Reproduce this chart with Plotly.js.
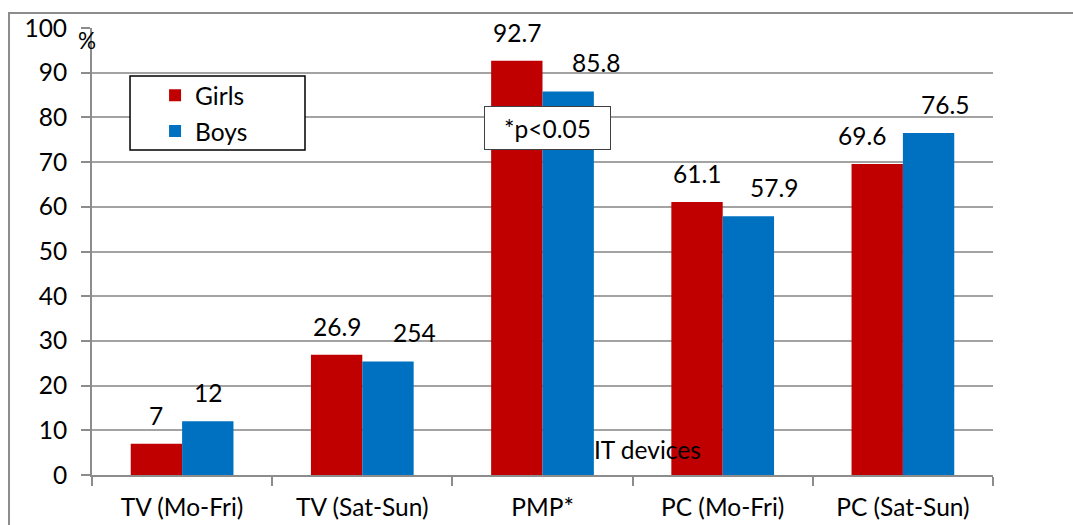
<!DOCTYPE html>
<html>
<head>
<meta charset="utf-8">
<script src="https://cdn.plot.ly/plotly-3.0.1.min.js"></script>
<style>
  html, body { margin: 0; padding: 0; background: #fff; }
  #chart { width: 1073px; height: 525px; }
</style>
</head>
<body>
<div id="chart"></div>
<script>
// Share of girls and boys using IT devices (%)
const categories = ['TV (Mo-Fri)', 'TV (Sat-Sun)', 'PMP*', 'PC (Mo-Fri)', 'PC (Sat-Sun)'];
const girls = [7, 26.9, 92.7, 61.1, 69.6];
const boys = [12, 25.4, 85.8, 57.9, 76.5];
const girlsLabels = ['7', '26.9', '92.7', '61.1', '69.6'];
const boysLabels = ['12', '254', '85.8', '57.9', '76.5'];
const yTicks = [0, 10, 20, 30, 40, 50, 60, 70, 80, 90, 100];

const FONT = 'Lato, "Open Sans", "DejaVu Sans", sans-serif';
const FS = 24.5;
const RED = '#C00000';
const BLUE = '#0070C0';
const GRID = '#a3a3a3';
const AXIS = '#8c8c8c';

const traces = [
  { type: 'bar', name: 'Girls', x: categories, y: girls, marker: { color: RED }, legendgroup: 'g' },
  { type: 'bar', name: 'Boys', x: categories, y: boys, marker: { color: BLUE }, legendgroup: 'b' }
];

// value labels above the bars, with a few hand-placed nudges
const barOffset = 25.7;
const nudge = { girls: [0, 0, 0, 0, -15], boys: [0, 26, 28, 26, 16] };
const labelAnns = [];
categories.forEach((c, i) => {
  labelAnns.push({ x: c, y: girls[i], xref: 'x', yref: 'y', text: girlsLabels[i], showarrow: false,
    xanchor: 'center', yanchor: 'bottom', xshift: -barOffset + nudge.girls[i], yshift: 12,
    font: { family: FONT, size: FS, color: '#000' } });
  labelAnns.push({ x: c, y: boys[i], xref: 'x', yref: 'y', text: boysLabels[i], showarrow: false,
    xanchor: 'center', yanchor: 'bottom', xshift: barOffset + nudge.boys[i], yshift: 12,
    font: { family: FONT, size: FS, color: '#000' } });
});

const layout = {
  width: 1073, height: 525,
  margin: { l: 92, r: 80, t: 28, b: 50, pad: 0 },
  paper_bgcolor: '#fff', plot_bgcolor: '#fff',
  font: { family: FONT, size: FS, color: '#000' },
  barmode: 'group', bargap: 0.43, bargroupgap: 0,
  showlegend: true,
  legend: {
    x: 0.07, y: 0.9, xanchor: 'left', yanchor: 'top',
    bgcolor: 'rgba(0,0,0,0)', borderwidth: 0,
    font: { family: FONT, size: FS, color: '#000' },
    traceorder: 'grouped', tracegroupgap: 1, itemwidth: 30
  },
  xaxis: {
    type: 'category', showgrid: false, zeroline: false,
    showline: true, linecolor: AXIS, linewidth: 2,
    ticks: 'outside', tickson: 'boundaries', ticklen: 9, tickwidth: 2, tickcolor: AXIS,
    ticklabelstandoff: 10,
    tickfont: { family: FONT, size: FS, color: '#000' }
  },
  yaxis: {
    range: [0, 100], tickvals: yTicks, ticktext: yTicks.map(String),
    showgrid: true, gridcolor: GRID, gridwidth: 2, zeroline: false,
    showline: true, linecolor: AXIS, linewidth: 2,
    ticks: 'outside', ticklen: 9, tickwidth: 2, tickcolor: AXIS,
    ticklabelstandoff: 9,
    tickfont: { family: FONT, size: FS, color: '#000' }
  },
  shapes: [
    // chart frame
    { type: 'rect', xref: 'paper', yref: 'paper', x0: -0.0921, x1: 1.3, y0: -0.4, y1: 1.0336,
      line: { color: AXIS, width: 2 }, fillcolor: 'rgba(0,0,0,0)', layer: 'below' },
    // legend frame
    { type: 'rect', xref: 'paper', yref: 'paper', x0: 0.0422, x1: 0.2364, y0: 0.727, y1: 0.8926,
      line: { color: '#000', width: 1.5 }, fillcolor: '#fff', layer: 'above' }
  ],
  annotations: labelAnns.concat([
    { xref: 'paper', yref: 'paper', x: 0.506, y: 0.776, xanchor: 'center', yanchor: 'middle',
      text: '*p<0.05', showarrow: false, width: 119, height: 36, borderpad: 3,
      bordercolor: '#404040', borderwidth: 1, bgcolor: '#fff',
      font: { family: FONT, size: FS, color: '#000' } },
    { xref: 'paper', yref: 'paper', x: 0.617, y: 0.058, xanchor: 'center', yanchor: 'middle',
      text: 'IT devices', showarrow: false, font: { family: FONT, size: FS, color: '#000' } },
    { xref: 'paper', yref: 'paper', x: -0.0055, y: 0.971, xanchor: 'center', yanchor: 'middle',
      text: '%', showarrow: false, font: { family: FONT, size: FS - 2, color: '#000' } }
  ])
};

Plotly.newPlot('chart', traces, layout, { staticPlot: true, displayModeBar: false });
</script>
</body>
</html>
